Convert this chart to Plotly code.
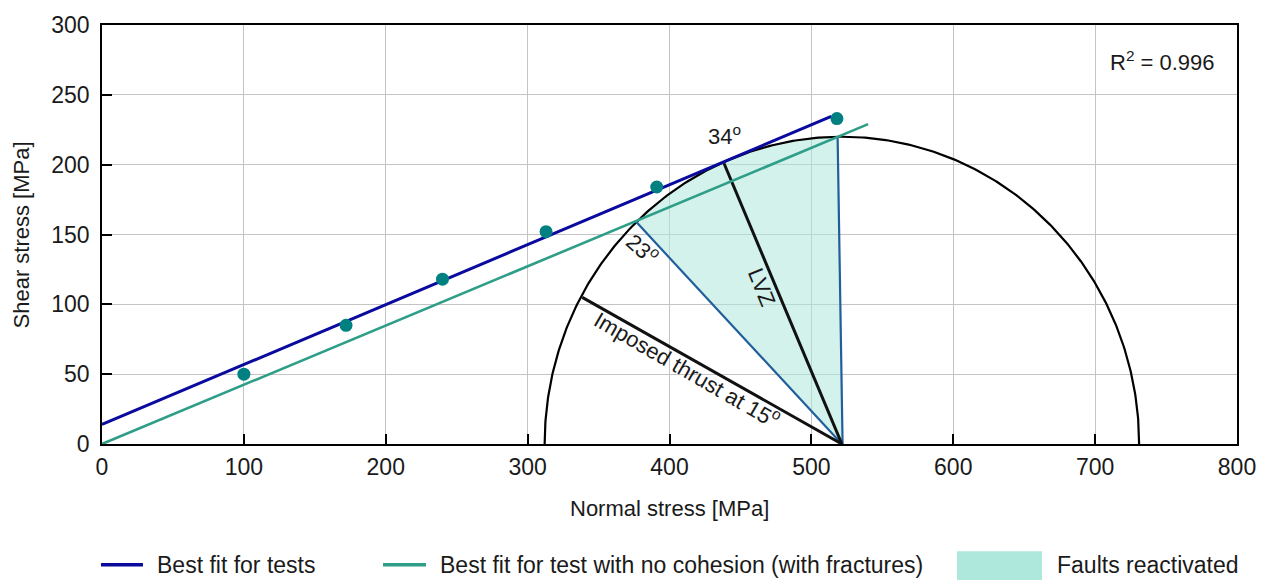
import numpy as np
import plotly.graph_objects as go

# ---- data ----
test_normal = [100, 172, 240, 313, 391, 518]
test_shear = [50, 85, 118, 152, 184, 233]

fit_tests_x = [0, 514]
fit_tests_y = [14, 234.5]

fit_nocoh_x = [0, 540]
fit_nocoh_y = [0, 229]

# Mohr circle (as drawn)
circle_center = 521.5
circle_rx = 209.5
circle_ry = 220

# points on the circle: imposed thrust 15, 23, 34 (LVZ), top of reactivated range
fault_labels = ["15", "23", "34", "45"]
fault_x = [338.5, 376, 438.4, 518.5]
fault_y = [105, 159.6, 201, 220]
apex_x = [521.5, 521.5, 521.5, 522]
apex_y = [0, 0, 0, 0]

FONT = "Arial, Liberation Sans, sans-serif"
BLUE = "#0a0a9e"
GREEN = "#2e9e88"
TEAL = "#008080"
EDGE = "#215f9c"
FILL = "rgba(174,232,221,0.55)"
SWATCH = "#aee8dd"

fig = go.Figure()

# arc of the circle
theta = np.linspace(0, np.pi, 361)
circ_x = circle_center + circle_rx * np.cos(theta)
circ_y = circle_ry * np.sin(theta)

# shaded sector (faults reactivated): from 23 deg point to top point along arc
def param(x):
    return np.arccos(np.clip((x - circle_center) / circle_rx, -1, 1))

t0 = param(fault_x[1])
t1 = param(fault_x[3])
ta = np.linspace(t0, t1, 80)
sx = [apex_x[1], fault_x[1]] + list(circle_center + circle_rx * np.cos(ta)) + [fault_x[3], apex_x[3]]
sy = [apex_y[1], fault_y[1]] + list(circle_ry * np.sin(ta)) + [fault_y[3], apex_y[3]]
fig.add_trace(go.Scatter(x=sx, y=sy, mode="lines", fill="toself", fillcolor=FILL,
                         line=dict(width=0), hoverinfo="skip", showlegend=False))

fig.add_trace(go.Scatter(x=circ_x, y=circ_y, mode="lines",
                         line=dict(color="black", width=2.2), hoverinfo="skip", showlegend=False))

# sector edges (blue)
for i in (1, 3):
    fig.add_trace(go.Scatter(x=[fault_x[i], apex_x[i]], y=[fault_y[i], apex_y[i]], mode="lines",
                             line=dict(color=EDGE, width=2.2), showlegend=False))
# thrust and LVZ (black)
for i in (0, 2):
    fig.add_trace(go.Scatter(x=[fault_x[i], apex_x[i]], y=[fault_y[i], apex_y[i]], mode="lines",
                             line=dict(color="#111111", width=3), showlegend=False))

fig.add_trace(go.Scatter(x=fit_nocoh_x, y=fit_nocoh_y, mode="lines",
                         line=dict(color=GREEN, width=2.6), showlegend=False))
fig.add_trace(go.Scatter(x=fit_tests_x, y=fit_tests_y, mode="lines",
                         line=dict(color=BLUE, width=3), showlegend=False))
fig.add_trace(go.Scatter(x=test_normal, y=test_shear, mode="markers",
                         marker=dict(color=TEAL, size=13), showlegend=False))

axis_common = dict(showline=True, linecolor="black", linewidth=1.6, mirror=True,
                   ticks="inside", ticklen=10, tickwidth=1.6, tickcolor="black",
                   showgrid=True, gridcolor="#c4c4c4", gridwidth=1, zeroline=False,
                   tickfont=dict(family=FONT, size=23, color="#1a1a1a"))

fig.update_xaxes(range=[0, 800], tickvals=[0, 100, 200, 300, 400, 500, 600, 700, 800],
                 ticklabelstandoff=2, **axis_common)
fig.update_yaxes(range=[0, 300], tickvals=[0, 50, 100, 150, 200, 250, 300],
                 ticklabelstandoff=6, **axis_common)

ann = []
tf = dict(family=FONT, size=22, color="#1a1a1a")
tl = dict(family=FONT, size=23, color="#1a1a1a")
ann.append(dict(x=0.5, y=-0.155, xref="paper", yref="paper", text="Normal stress [MPa]",
                showarrow=False, font=tf, xanchor="center", yanchor="middle"))
ann.append(dict(x=-0.0705, y=0.5, xref="paper", yref="paper", text="Shear stress [MPa]",
                showarrow=False, font=tf, textangle=-90, xanchor="center", yanchor="middle"))
ann.append(dict(x=0.982, y=0.914, xref="paper", yref="paper", text="R<sup>2</sup> = 0.996",
                showarrow=False, font=tf, xanchor="right", yanchor="middle"))
# angle labels
ann.append(dict(x=439, y=221, text="34<sup>o</sup>", showarrow=False, font=tf,
                xanchor="center", yanchor="middle"))
ann.append(dict(x=381, y=140, text="23<sup>o</sup>", showarrow=False, font=tf, textangle=42,
                xanchor="center", yanchor="middle"))
ann.append(dict(x=465, y=112, text="LVZ", showarrow=False, font=tf, textangle=68,
                xanchor="center", yanchor="middle"))
ann.append(dict(x=413, y=54, text="Imposed thrust at 15<sup>o</sup>", showarrow=False, font=tf,
                textangle=30, xanchor="center", yanchor="middle"))

# legend (manual)
ly = -0.288
ann.append(dict(x=0.0467, y=ly, xref="paper", yref="paper", text="Best fit for tests",
                showarrow=False, font=tl, xanchor="left", yanchor="middle"))
ann.append(dict(x=0.296, y=ly, xref="paper", yref="paper",
                text="Best fit for test with no cohesion (with fractures)",
                showarrow=False, font=tl, xanchor="left", yanchor="middle"))
ann.append(dict(x=0.8396, y=ly, xref="paper", yref="paper", text="Faults reactivated",
                showarrow=False, font=tl, xanchor="left", yanchor="middle"))

shapes = [
    dict(type="line", xref="paper", yref="paper", x0=-0.0009, x1=0.0361, y0=ly, y1=ly,
         line=dict(color=BLUE, width=3.5)),
    dict(type="line", xref="paper", yref="paper", x0=0.2476, x1=0.2855, y0=ly, y1=ly,
         line=dict(color=GREEN, width=3.5)),
    dict(type="rect", xref="paper", yref="paper", x0=0.7533, x1=0.8282, y0=-0.2558, y1=-0.33,
         line=dict(width=0), fillcolor=SWATCH),
]

fig.update_layout(width=1268, height=580, margin=dict(l=102, r=31, t=19, b=136),
                  plot_bgcolor="white", paper_bgcolor="white", showlegend=False,
                  annotations=ann, shapes=shapes, font=dict(family=FONT))

fig.write_html("out.html")
